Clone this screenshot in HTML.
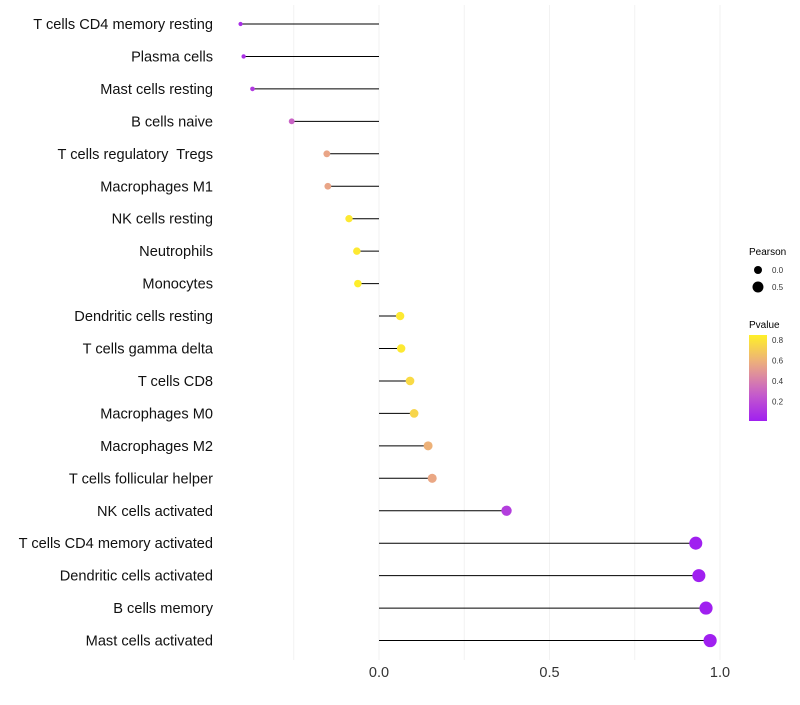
<!DOCTYPE html>
<html><head><meta charset="utf-8"><style>
body{margin:0;background:#fff;font-family:"Liberation Sans",sans-serif;}
text{white-space:pre;}
</style></head><body>
<svg id="c" width="800" height="700"></svg>
<script>
const cats=["T cells CD4 memory resting","Plasma cells","Mast cells resting","B cells naive","T cells regulatory  Tregs","Macrophages M1","NK cells resting","Neutrophils","Monocytes","Dendritic cells resting","T cells gamma delta","T cells CD8","Macrophages M0","Macrophages M2","T cells follicular helper","NK cells activated","T cells CD4 memory activated","Dendritic cells activated","B cells memory","Mast cells activated"];
const pearson=[-0.406,-0.397,-0.371,-0.256,-0.153,-0.150,-0.088,-0.065,-0.062,0.062,0.065,0.091,0.103,0.144,0.156,0.374,0.929,0.938,0.959,0.971];
const pvalues=[0.07,0.08,0.12,0.3,0.55,0.55,0.82,0.82,0.84,0.82,0.82,0.76,0.74,0.6,0.56,0.14,0.01,0.01,0.01,0.01];
const xTicks=[0,0.5,1.0];
const xTickLabels=["0.0","0.5","1.0"];
const minorTicks=[-0.25,0.25,0.75];
const pTicks=[0.2,0.4,0.6,0.8];
const NS="http://www.w3.org/2000/svg";
const svg=document.getElementById('c');
const X=v=>379+v*341;
const Y=i=>24+i*32.45;
const R=v=>Math.sqrt(Math.max(16+28.5*v,2));
function col(p){const t=Math.max(0,Math.min(1,(p-0.01)/0.84));
 const s=[[160,32,240],[200,96,200],[235,170,130],[255,240,40]];
 const f=t*3,i=Math.min(2,Math.floor(f)),u=f-i;
 const c=s[i].map((a,k)=>Math.round(a+(s[i+1][k]-a)*u));return `rgb(${c})`;}
function mk(t,a){const e=document.createElementNS(NS,t);for(const k in a)e.setAttribute(k,a[k]);svg.appendChild(e);return e;}
minorTicks.concat(xTicks).forEach(v=>{const l=mk('line',{x1:X(v),x2:X(v),y1:5,y2:660,stroke:'#f2f2f2','stroke-width':1});

});
xTicks.forEach((v,i)=>{const t=mk('text',{x:X(v),y:677,'text-anchor':'middle','font-size':14.5,fill:'#333'});t.textContent=xTickLabels[i];

});
cats.forEach((c,i)=>{const y=Y(i);
 const l=mk('line',{x1:X(0),x2:X(pearson[i]),y1:y,y2:y,stroke:'#000','stroke-width':1});
 
 
 const p=mk('circle',{cx:X(pearson[i]),cy:y,r:R(pearson[i]),fill:col(pvalues[i])});
 
 
 const t=mk('text',{x:213,y:y+5,'text-anchor':'end','font-size':14.6,fill:'#111'});t.textContent=c;
 
 
});
let t=mk('text',{x:749,y:255,'font-size':10});t.textContent='Pearson';


[0,0.5].forEach((v,i)=>{const y=270+i*17;const c=mk('circle',{cx:758,cy:y,r:R(v),fill:'#000'});


const l=mk('text',{x:772,y:y+3,'font-size':8,fill:'#333'});l.textContent=v.toFixed(1);

});
t=mk('text',{x:749,y:328,'font-size':10});t.textContent='Pvalue';


const defs=mk('defs',{});const g=document.createElementNS(NS,'linearGradient');g.setAttribute('id','gr');g.setAttribute('x1',0);g.setAttribute('y1',1);g.setAttribute('x2',0);g.setAttribute('y2',0);defs.appendChild(g);
for(let k=0;k<=10;k++){const s=document.createElementNS(NS,'stop');s.setAttribute('offset',k/10);s.setAttribute('stop-color',col(0.01+0.84*k/10));g.appendChild(s);}
const bar=mk('rect',{x:749,y:335,width:18,height:86,fill:'url(#gr)'});


const PY=p=>421-(p-0.01)/0.84*86;
pTicks.forEach(p=>{const l=mk('text',{x:772,y:PY(p)+3,'font-size':8,fill:'#333'});l.textContent=p.toFixed(1);

});
</script>
</body></html>
